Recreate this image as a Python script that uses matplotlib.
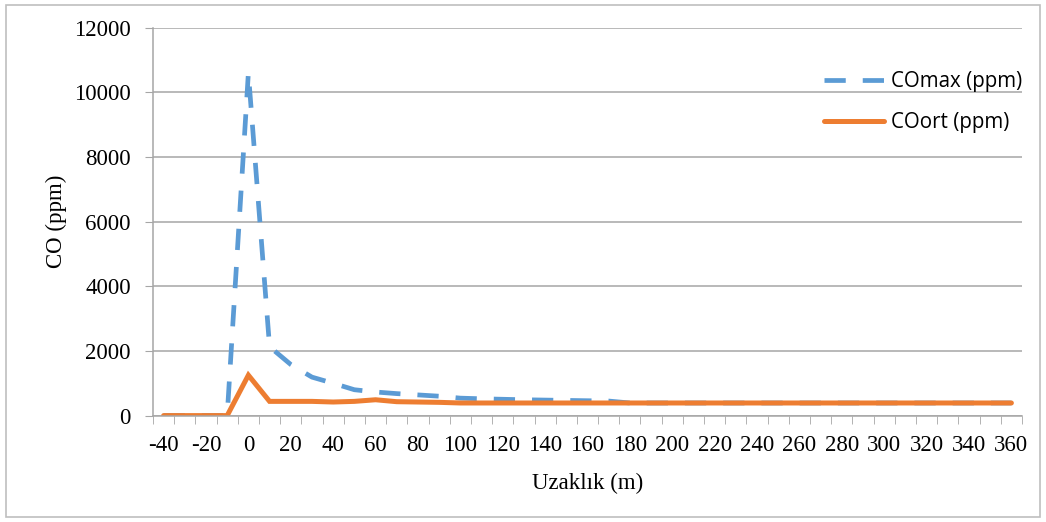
import matplotlib
matplotlib.use('Agg')
import matplotlib.pyplot as plt
from matplotlib.patches import Rectangle
from matplotlib.ticker import MultipleLocator, FixedLocator

plt.rcParams['axes.unicode_minus'] = False

# distance categories (m)
uzaklik = list(range(-40, 370, 10))
co_max = [0, 0, 0, 0, 10600, 2130, 1580, 1190, 1000, 800, 730, 680, 640, 600,
          540, 520, 505, 490, 480, 470, 460, 450] + [390] * 19
co_ort = [0, 0, 0, 0, 1250, 440, 440, 440, 420, 440, 490, 430, 420, 410,
          390, 390, 390, 390, 390, 390, 390, 390] + [390] * 19
xlabels = list(range(-40, 380, 20))

serif = 'Liberation Serif'
grid_c = '#A6A6A6'

fig = plt.figure(figsize=(10.46, 5.22), dpi=100)
fig.patches.append(Rectangle((6 / 1046, 5 / 522), 1034 / 1046, 512 / 522,
                             transform=fig.transFigure, fill=False,
                             edgecolor='#BFBFBF', linewidth=1.2))
ax = fig.add_axes([153 / 1046, 1 - 415.6 / 522, 869 / 1046, 388 / 522])

ax.plot(uzaklik, co_max, color='#5B9BD5', linewidth=3.4, dashes=(4.5, 3.6),
        dash_capstyle='butt', label='COmax (ppm)')
ax.plot(uzaklik, co_ort, color='#ED7D31', linewidth=3.6,
        solid_capstyle='round', solid_joinstyle='miter', label='COort (ppm)')

ax.set_xlim(-45, 365)
ax.set_ylim(0, 12000)
ax.yaxis.set_major_locator(MultipleLocator(2000))
ax.xaxis.set_major_locator(FixedLocator(xlabels))
ax.xaxis.set_minor_locator(FixedLocator([x - 5 for x in range(-40, 380, 10)]))
ax.tick_params(axis='x', which='major', length=0, pad=14)
ax.tick_params(axis='x', which='minor', length=6, color=grid_c, direction='out')
ax.tick_params(axis='y', length=6, color=grid_c, pad=10)
ax.grid(axis='y', color=grid_c, linewidth=1.1)
ax.set_axisbelow(True)
for s in ['top', 'right']:
    ax.spines[s].set_visible(False)
for s in ['left', 'bottom']:
    ax.spines[s].set_color(grid_c)
    ax.spines[s].set_linewidth(1.1)

for lab in ax.get_xticklabels() + ax.get_yticklabels():
    lab.set_fontfamily(serif)
    lab.set_fontsize(16.5)

ax.set_xlabel('Uzaklık (m)', fontfamily=serif, fontsize=16.5, labelpad=12)
ax.set_ylabel('CO (ppm)', fontfamily=serif, fontsize=16.5, labelpad=5)

ax.legend(loc='upper left', bbox_to_anchor=(0.751, 0.936), frameon=False,
          prop={'family': 'Open Sans', 'size': 14.8}, handlelength=2.9,
          labelspacing=1.0, handletextpad=0.35)

fig.savefig('out.png', dpi=100)
